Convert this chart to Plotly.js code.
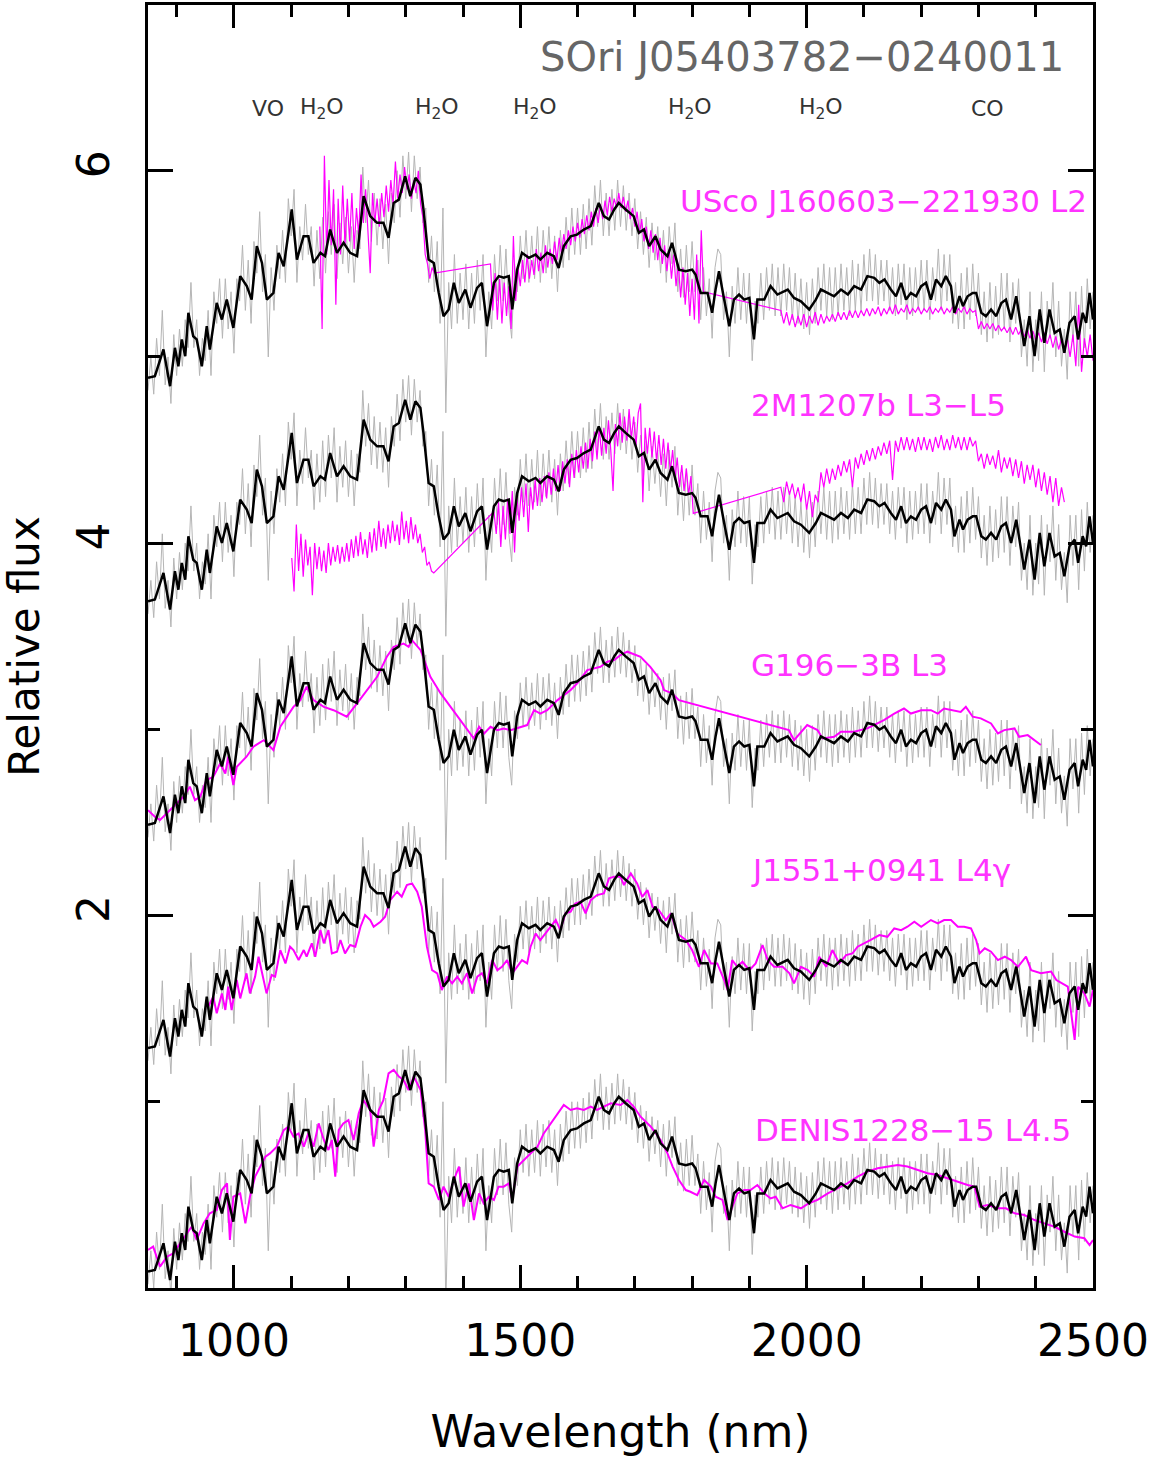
<!DOCTYPE html>
<html>
<head>
<meta charset="utf-8">
<script src="https://cdn.plot.ly/plotly-3.0.1.min.js"></script>
<style>html,body{margin:0;padding:0;background:#fff;}</style>
</head>
<body>
<div id="chart" style="width:1157px;height:1465px;"></div>
<script>
// ---- vertical offsets of the five copies of SOri J05403782-0240011 ----
const offsets = [0, 1.2, 2.4, 3.6, 4.8];

// ---- smoothed spectrum of SOri J05403782-0240011 (bottom copy) ----
const blackWl = [850,862,877,888.5,897,903,909,915,920.5,929,
935,944,952.6,958,970,979,987.5,999,1011,1022.5,
1031,1040,1049,1057.5,1069,1078,1087,1101,1110,1121.6,
1130,1139,1151,1159,1168,1180,1191.5,1203,1215,1226.5,
1238,1250,1261,1270,1279,1288,1299,1308,1317,1325.6,
1331,1340,1349,1357.6,1366,1375,1384,1392.6,1404,1413,
1424.6,1433,1442,1454,1462.5,1471,1480,1486,1494.6,1503,
1515,1526.6,1535,1547,1558.7,1567,1576,1588,1599,1611,
1623,1637,1646,1655,1664,1672,1684,1698,1707,1716,
1725,1736,1745,1757,1765,1777,1789,1800,1806,1815,
1827,1835,1841,1847,1856,1865,1873,1882,1891,1900,
1908,1914,1926,1937,1949,1967,1978,1990,2004.5,2016,
2025,2037,2048,2060,2072,2083,2095,2106,2118,2127,
2136,2147,2156,2165,2173.5,2182,2191,2200,2208.5,2217,
2226,2235,2243,2252,2258,2267,2273,2281,2290,2296,
2305,2313,2322,2331,2340,2348,2357,2366,2374.5,2380,
2389,2398,2407,2415,2424,2433,2442,2450,2459,2468,
2474,2482,2488,2494,2500];
const blackFlux = [.088,.097,.24,.043,.249,.15,.294,.204,.437,.311,
.294,.15,.365,.24,.49,.401,.508,.356,.634,.58,
.508,.795,.705,.508,.544,.759,.687,.992,.723,.848,
.848,.705,.759,.741,.884,.759,.813,.759,.741,1.063,
.956,.92,.92,.84,1.027,1.045,1.17,1.063,1.162,1.126,
.992,.723,.705,.544,.419,.455,.598,.49,.562,.464,
.571,.598,.365,.598,.634,.625,.634,.455,.669,.759,
.732,.75,.723,.759,.741,.678,.795,.848,.857,.884,
.902,1.027,.956,.938,.992,1.027,.992,.956,.866,.884,
.795,.848,.777,.741,.813,.669,.66,.669,.643,.544,
.544,.437,.562,.66,.508,.365,.508,.535,.508,.517,
.294,.508,.508,.58,.535,.562,.517,.499,.455,.508,
.562,.544,.526,.562,.535,.58,.562,.634,.625,.598,
.616,.562,.526,.598,.508,.544,.526,.58,.598,.508,
.616,.58,.634,.58,.437,.526,.473,.526,.544,.544,
.437,.419,.455,.419,.49,.508,.401,.526,.365,.258,
.419,.204,.455,.276,.455,.329,.347,.222,.383,.419,
.294,.437,.383,.544,.401];

// ---- full-resolution (noisy) spectrum, 5 nm sampling from 850 nm ----
const greyStart = 850, greyStep = 5;
const greyFlux = [.02,.2,.0,.3,.1,.45,.05,.2,-.05,.32,
.1,.35,.15,.4,.25,.6,.25,.4,.1,.3,
.18,.45,.1,.55,.38,.62,.3,.62,.35,.55,
.22,.62,.5,.8,.45,.72,.38,.82,.65,.98,
.55,.75,.2,.68,.45,.8,.62,.88,.6,1.05,
.85,1.1,.6,.9,.72,1.02,.75,.9,.58,.88,
.62,.95,.65,.98,.75,1.02,.62,.92,.7,.95,
.65,.9,.6,.88,.78,1.22,.92,1.15,.82,1.08,
.8,1.05,.78,1.02,.7,1.08,.92,1.2,.95,1.28,
1.05,1.3,.98,1.28,1.05,1.22,.92,1.0,.6,.85,
.55,.82,.38,1.0,-.1,.6,.35,.75,.38,.65,
.4,.7,.35,.65,.38,.72,.45,.75,.2,.55,
.35,.75,.5,.8,.5,.78,.45,.3,.7,.55,
.85,.62,.88,.6,.85,.62,.9,.6,.88,.65,
.9,.62,.85,.55,.88,.68,.95,.72,1.0,.75,
1.0,.75,1.02,.78,1.05,.8,1.12,.9,1.15,.85,
1.08,.85,1.1,.88,1.15,.9,1.12,.88,1.08,.85,
1.05,.78,.98,.75,.95,.68,.92,.72,.9,.65,
.88,.6,.9,.7,.92,.55,.78,.52,.8,.55,
.82,.55,.72,.4,.68,.42,.62,.3,.68,.78,
.75,.4,.55,.2,.58,.38,.68,.4,.65,.38,
.65,.18,.5,.38,.65,.4,.68,.45,.7,.42,
.68,.42,.7,.45,.68,.4,.65,.38,.62,.35,
.6,.32,.62,.38,.68,.45,.7,.42,.68,.4,
.68,.42,.7,.45,.68,.42,.72,.45,.7,.45,
.75,.5,.78,.5,.75,.48,.72,.5,.72,.45,
.68,.42,.7,.48,.7,.4,.68,.42,.68,.45,
.72,.45,.72,.4,.68,.5,.78,.45,.75,.5,
.75,.38,.6,.35,.65,.35,.68,.4,.7,.42,
.65,.32,.55,.28,.6,.3,.58,.32,.65,.35,
.65,.28,.6,.38,.62,.2,.4,.15,.55,.12,
.4,.18,.55,.12,.5,.3,.6,.2,.5,.15,
.35,.08,.55,.28,.55,.15,.58,.25,.62,.35,
.55];

// ---- USco J160603-221930 (L2): J, H, K segments ----
const uscoJStart = 1150, uscoJStep = 4;
const uscoJFlux = [5.70,5.15,6.08,5.55,5.95,5.60,5.90,5.28,5.85,5.55,
5.92,5.60,5.85,5.62,5.88,5.58,5.80,5.65,5.98,5.72,
5.90,5.68,5.45,5.88,5.72,5.85,5.70,5.88,5.75,5.92,
5.78,5.95,5.82,6.05,5.85,5.98,5.88,6.02,5.90,5.98,
5.85,5.95,5.88,6.0,5.82,5.75,5.55,5.50,5.42,5.48,5.45];
const uscoHStart = 1448, uscoHStep = 4;
const uscoHFlux = [5.50,5.25,5.45,5.20,5.42,5.18,5.40,5.22,5.38,5.15,
5.65,5.30,5.48,5.38,5.52,5.40,5.55,5.42,5.52,5.44,
5.58,5.46,5.56,5.45,5.60,5.48,5.58,5.50,5.62,5.52,
5.64,5.55,5.66,5.58,5.68,5.60,5.70,5.62,5.72,5.64,
5.74,5.66,5.76,5.68,5.78,5.70,5.80,5.72,5.82,5.74,
5.84,5.76,5.86,5.78,5.85,5.80,5.88,5.80,5.86,5.78,
5.84,5.74,5.80,5.70,5.78,5.66,5.74,5.62,5.70,5.58,
5.68,5.56,5.66,5.52,5.64,5.50,5.60,5.46,5.58,5.42,
5.55,5.38,5.50,5.32,5.48,5.28,5.45,5.22,5.42,5.20,
5.55,5.18,5.68,5.35];
const uscoKStart = 1955, uscoKStep = 5;
const uscoKFlux = [5.25,5.18,5.24,5.17,5.23,5.16,5.22,5.17,5.23,5.16,
5.22,5.18,5.24,5.17,5.23,5.18,5.22,5.19,5.23,5.19,
5.24,5.20,5.24,5.20,5.25,5.21,5.25,5.21,5.25,5.22,
5.26,5.22,5.26,5.23,5.27,5.22,5.26,5.23,5.27,5.23,
5.28,5.23,5.26,5.24,5.28,5.23,5.26,5.24,5.27,5.23,
5.26,5.24,5.27,5.23,5.26,5.24,5.27,5.23,5.26,5.24,
5.27,5.23,5.26,5.24,5.27,5.23,5.26,5.24,5.25,5.15,
5.19,5.15,5.18,5.15,5.18,5.14,5.17,5.14,5.16,5.13,
5.16,5.12,5.16,5.12,5.15,5.11,5.15,5.10,5.14,5.09,
5.13,5.08,5.13,5.07,5.12,5.05,5.11,5.04,5.10,5.02,
5.10,5.0,5.12,4.95,5.28,4.92,5.10,5.0,5.12,4.98];

// ---- 2M1207b (L3-L5): J, H, K segments ----
const m1207JStart = 1101, m1207JStep = 4;
const m1207JFlux = [3.92,3.74,4.10,3.85,4.05,3.82,4.02,3.88,3.98,3.72,
4.0,3.86,3.98,3.85,3.96,3.84,4.0,3.88,3.98,3.90,
3.99,3.89,3.98,3.90,4.0,3.90,4.02,3.92,4.04,3.93,
4.06,3.94,4.02,3.92,4.06,3.95,4.08,3.96,4.12,3.98,
4.08,3.97,4.10,4.0,4.12,4.01,4.10,3.99,4.17,4.02,
4.12,4.0,4.14,4.02,4.10,4.0,4.05,3.95,3.98,3.88,
3.90,3.85,3.84];
const m1207HStart = 1454, m1207HStep = 4;
const m1207HFlux = [4.17,4.05,4.22,3.98,4.20,4.02,4.24,4.05,4.28,3.95,
4.25,4.12,4.30,4.14,4.32,4.06,4.30,4.18,4.34,4.20,
4.35,4.22,4.36,4.24,4.38,4.26,4.40,4.28,4.42,4.28,
4.44,4.32,4.45,4.30,4.48,4.35,4.50,4.38,4.52,4.40,
4.54,4.40,4.56,4.44,4.60,4.45,4.62,4.47,4.62,4.48,
4.66,4.50,4.28,4.64,4.52,4.70,4.54,4.68,4.55,4.72,
4.56,4.68,4.52,4.70,4.75,4.22,4.62,4.48,4.62,4.46,
4.60,4.44,4.58,4.42,4.56,4.40,4.54,4.38,4.50,4.34,
4.46,4.30,4.42,4.28,4.40,4.26,4.36,4.16];
const m1207KStart = 1955, m1207KStep = 5;
const m1207KFlux = [4.30,4.22,4.33,4.26,4.32,4.24,4.30,4.22,4.32,4.18,
4.28,4.14,4.26,4.22,4.38,4.30,4.40,4.32,4.40,4.34,
4.42,4.36,4.44,4.38,4.45,4.30,4.46,4.40,4.48,4.42,
4.50,4.44,4.51,4.45,4.52,4.47,4.54,4.48,4.55,4.34,
4.55,4.49,4.57,4.50,4.57,4.50,4.56,4.49,4.57,4.50,
4.57,4.50,4.56,4.49,4.57,4.51,4.58,4.50,4.56,4.50,
4.58,4.51,4.57,4.50,4.57,4.50,4.57,4.52,4.55,4.44,
4.48,4.40,4.48,4.42,4.47,4.40,4.50,4.38,4.46,4.40,
4.46,4.36,4.45,4.35,4.44,4.32,4.42,4.34,4.42,4.30,
4.40,4.28,4.38,4.26,4.36,4.22,4.35,4.20,4.30,4.22];

// ---- G196-3B (L3) ----
const g196Wl = [850,862,871,883,894,912,923,932,941,952,964,976,985,990,999,1005,1022,1034,1052,1069,
1081,1092,1104,1116,1127,1139,1157,1174,1197,1215,1232,1250,1267,1279,1296,1305,1311,1326,1343,1361,
1419,1428,1437,1448,1460,1471,1483,1494,1512,1524,1535,1547,1565,1588,1599,1617,1640,1652,1664,1675,
1687,1710,1727,1745,1751,1765,1777,1969,1978,2001,2019,2028,2048,2060,2083,2106,2118,2135,2153,2170,
2182,2200,2217,2229,2240,2258,2269,2278,2290,2304,2322,2334,2345,2363,2371,2386,2398,2409];
const g196Flux = [2.566,2.531,2.513,2.549,2.584,2.638,2.692,2.620,2.638,2.728,2.745,2.817,2.763,2.853,2.701,2.799,2.853,2.907,2.942,2.889,
3.014,3.068,3.121,3.157,3.229,3.157,3.121,3.103,3.068,3.139,3.211,3.282,3.390,3.443,3.461,3.443,3.479,3.425,3.282,3.193,
2.951,3.014,2.978,3.014,2.996,3.005,2.996,3.005,3.023,3.103,3.085,3.103,3.157,3.211,3.246,3.318,3.336,3.363,3.372,3.399,
3.417,3.390,3.336,3.264,3.211,3.193,3.157,2.996,2.942,3.023,2.996,2.951,2.960,2.987,2.987,3.005,3.023,3.050,3.085,3.112,
3.085,3.103,3.103,3.085,3.112,3.103,3.094,3.121,3.068,3.059,3.032,2.978,2.996,3.005,2.960,2.969,2.942,2.916];

// ---- J1551+0941 (L4 gamma) ----
const j1551Wl = [955,964,970,979,985,990,996,1005,1011,1017,1022,1028,1037,1043,1049,1057,1066,1072,1081,1090,
1098,1104,1113,1122,1127,1136,1142,1151,1157,1165,1171,1180,1186,1194,1203,1212,1221,1229,1238,1244,
1256,1264,1273,1285,1293,1302,1311,1320,1328,1337,1346,1355,1363,1372,1381,1390,1398,1407,1416,1425,
1433,1442,1451,1460,1468,1477,1486,1494,1503,1512,1518,1527,1535,1544,1553,1562,1570,1579,1588,1596,
1605,1614,1623,1634,1646,1655,1664,1675,1681,1693,1704,1713,1722,1731,1742,1754,1763,1774,1789,1800,
1812,1821,1833,1844,1856,1862,1870,1879,1888,1900,1911,1923,1932,1943,1958,1970,1978,1990,2002,2013,
2022,2034,2045,2057,2069,2080,2089,2101,2112,2127,2141,2153,2165,2176,2188,2200,2217,2229,2240,2252,
2264,2275,2287,2296,2302,2311,2322,2334,2346,2357,2369,2383,2392,2409,2427,2436,2447,2456,2468,2474,
2485,2494,2500];
const j1551Flux = [1.511,1.564,1.475,1.582,1.493,1.618,1.493,1.654,1.555,1.636,1.690,1.582,1.672,1.779,1.690,1.582,1.681,1.672,1.815,1.743,
1.833,1.815,1.761,1.815,1.779,1.851,1.779,1.922,1.851,1.922,1.797,1.806,1.869,1.797,1.842,1.833,1.940,2.003,1.976,1.940,
1.967,1.994,2.083,2.128,2.101,2.164,2.173,2.128,2.047,1.833,1.707,1.690,1.600,1.672,1.636,1.672,1.636,1.690,1.582,1.672,
1.690,1.636,1.761,1.707,1.725,1.761,1.690,1.725,1.761,1.743,1.833,1.904,1.869,1.904,1.940,1.976,1.922,2.012,2.021,2.065,
2.074,2.012,2.083,2.110,2.119,2.200,2.209,2.209,2.164,2.226,2.173,2.101,2.137,2.047,2.029,1.976,2.012,1.904,1.869,1.815,
1.725,1.815,1.743,1.743,1.654,1.600,1.761,1.725,1.752,1.707,1.743,1.842,1.761,1.725,1.725,1.690,1.636,1.725,1.707,1.672,
1.779,1.725,1.815,1.743,1.788,1.797,1.833,1.851,1.869,1.895,1.886,1.931,1.922,1.940,1.967,1.940,1.976,1.958,1.976,1.976,
1.940,1.940,1.931,1.869,1.797,1.824,1.806,1.761,1.779,1.761,1.725,1.779,1.707,1.690,1.699,1.654,1.636,1.618,1.332,1.618,
1.582,1.511,1.600];

// ---- DENIS1228-15 (L4.5) ----
const denisWl = [850,859,871,883,894,906,918,926,935,947,958,970,979,988,993,999,1011,1020,1028,1037,
1046,1055,1063,1075,1087,1095,1104,1113,1122,1130,1139,1148,1157,1165,1171,1177,1183,1191,1200,1209,
1218,1226,1238,1244,1253,1261,1270,1279,1288,1296,1305,1314,1326,1334,1340,1349,1358,1366,1375,1384,
1393,1401,1410,1419,1428,1436,1445,1454,1462,1471,1480,1486,1495,1506,1518,1530,1541,1553,1565,1576,
1588,1599,1611,1623,1634,1646,1658,1675,1687,1698,1710,1728,1745,1757,1766,1777,1789,1797,1809,1821,
1833,1841,1853,1862,1870,1879,1891,1902,1914,1926,1937,1946,1958,1972,1990,2004,2019,2037,2054,2071,
2089,2106,2124,2141,2159,2176,2194,2211,2229,2246,2264,2281,2293,2302,2316,2334,2348,2363,2380,2398,
2415,2433,2450,2468,2485,2494,2500];
const denisFlux = [.204,.222,.115,.168,.186,.240,.294,.329,.258,.347,.401,.419,.526,.562,.258,.490,.508,.347,.490,.598,
.652,.705,.723,.759,.848,.866,.813,.830,.759,.830,.759,.884,.795,.741,.795,.598,.848,.884,.902,.795,
.938,1.009,.956,.759,.956,1.009,1.153,1.171,1.135,1.117,1.063,1.135,1.063,.848,.562,.544,.473,.544,.490,.580,
.652,.437,.562,.365,.508,.455,.490,.473,.544,.544,.562,.473,.652,.687,.723,.759,.830,.884,.938,.983,
.956,.965,.956,.974,.956,.974,.992,.983,1.009,.974,.920,.866,.795,.723,.652,.580,.526,.517,.499,.580,
.544,.490,.473,.365,.437,.508,.526,.526,.553,.508,.481,.490,.428,.446,.428,.455,.473,.508,.535,.562,
.598,.625,.643,.652,.661,.652,.634,.616,.607,.589,.571,.553,.544,.437,.446,.428,.428,.401,.392,.365,
.347,.329,.302,.276,.267,.231,.258];

// ---- text ----
const objectName = 'SOri J05403782\u22120240011';
const compLabels = ['USco J160603\u2212221930 L2', '2M1207b L3\u2212L5', 'G196\u22123B L3', 'J1551+0941 L4\u03b3', 'DENIS1228\u221215 L4.5'];
const featureLabels = ['VO', 'H<sub>2</sub>O', 'H<sub>2</sub>O', 'H<sub>2</sub>O', 'H<sub>2</sub>O', 'H<sub>2</sub>O', 'CO'];
const featureWl = [1060, 1154, 1355, 1525, 1796, 2025, 2315];
const xTickVals = [1000, 1500, 2000, 2500];
const yTickVals = [2, 4, 6];

// ---------------- build ----------------
function grid(start, step, n) { const a = []; for (let i = 0; i < n; i++) a.push(start + i * step); return a; }
function segs(list) {
  const x = [], y = [];
  list.forEach(s => { const g = grid(s[0], s[1], s[2].length); g.forEach((v, i) => { x.push(v); y.push(s[2][i]); }); });
  return {x, y};
}
const MAG = '#ff00ff';
const traces = [];
const greyWl = grid(greyStart, greyStep, greyFlux.length);
offsets.forEach(o => traces.push({x: greyWl, y: greyFlux.map(v => v + o), type: 'scatter', mode: 'lines',
  line: {color: '#b5b5b5', width: 1}, hoverinfo: 'skip'}));

const usco = segs([[uscoJStart, uscoJStep, uscoJFlux], [uscoHStart, uscoHStep, uscoHFlux], [uscoKStart, uscoKStep, uscoKFlux]]);
traces.push({x: usco.x, y: usco.y, type: 'scatter', mode: 'lines', line: {color: MAG, width: 1.2}});
const m1207 = segs([[m1207JStart, m1207JStep, m1207JFlux], [m1207HStart, m1207HStep, m1207HFlux], [m1207KStart, m1207KStep, m1207KFlux]]);
traces.push({x: m1207.x, y: m1207.y, type: 'scatter', mode: 'lines', line: {color: MAG, width: 1.2}});
traces.push({x: g196Wl, y: g196Flux, type: 'scatter', mode: 'lines', line: {color: MAG, width: 2}});
traces.push({x: j1551Wl, y: j1551Flux, type: 'scatter', mode: 'lines', line: {color: MAG, width: 2}});
traces.push({x: denisWl, y: denisFlux, type: 'scatter', mode: 'lines', line: {color: MAG, width: 2}});

offsets.forEach(o => traces.push({x: blackWl, y: blackFlux.map(v => v + o), type: 'scatter', mode: 'lines',
  line: {color: '#000000', width: 2.5}}));

const annotations = [];
annotations.push({text: objectName, x: 2453, y: 6.61, xref: 'x', yref: 'y', xanchor: 'right', yanchor: 'middle',
  showarrow: false, font: {size: 40, color: '#666666', family: 'DejaVu Sans'}});
featureLabels.forEach((t, i) => annotations.push({text: t, x: featureWl[i], y: 6.336, xref: 'x', yref: 'y',
  xanchor: 'center', yanchor: 'middle', showarrow: false, font: {size: 22, color: '#333333', family: 'DejaVu Sans'}}));
const labelPos = [[1775, 5.84], [1899, 4.74], [1899, 3.345], [1899, 2.244], [1906, 0.848]];
compLabels.forEach((t, i) => annotations.push({text: t, x: labelPos[i][0], y: labelPos[i][1], xref: 'x', yref: 'y',
  xanchor: 'left', yanchor: 'middle', showarrow: false, font: {size: 31, color: '#ff33ff', family: 'DejaVu Sans'}}));

const xMinor = [900,1100,1200,1300,1400,1600,1700,1800,1900,2100,2200,2300,2400];
const layout = {
  width: 1157, height: 1465,
  margin: {l: 148, r: 64, t: 5, b: 177},
  paper_bgcolor: '#ffffff', plot_bgcolor: '#ffffff',
  showlegend: false,
  font: {family: 'DejaVu Sans', color: '#000000'},
  xaxis: {
    range: [850, 2500], showline: true, linewidth: 3, linecolor: '#000', mirror: 'ticks',
    ticks: 'inside', ticklen: 23, tickwidth: 3, tickcolor: '#000',
    tickmode: 'array', tickvals: xTickVals, ticktext: xTickVals.map(String),
    tickfont: {size: 44}, showgrid: false, zeroline: false, ticklabelstandoff: 12,
    minor: {tickmode: 'array', tickvals: xMinor, ticks: 'inside', ticklen: 12, tickwidth: 3, tickcolor: '#000', showgrid: false},
    title: {text: 'Wavelength (nm)', font: {size: 44}, standoff: 52}
  },
  yaxis: {
    range: [0, 6.89], showline: true, linewidth: 3, linecolor: '#000', mirror: 'ticks',
    ticks: 'inside', ticklen: 25, tickwidth: 3, tickcolor: '#000',
    tickmode: 'array', tickvals: yTickVals, ticktext: yTickVals.map(String), tickangle: -90,
    tickfont: {size: 44}, showgrid: false, zeroline: false, ticklabelstandoff: 18,
    minor: {tickmode: 'array', tickvals: [1, 3, 5], ticks: 'inside', ticklen: 12, tickwidth: 3, tickcolor: '#000', showgrid: false},
    title: {text: 'Relative flux', font: {size: 42}, standoff: 32}
  },
  annotations: annotations
};
Plotly.newPlot('chart', traces, layout, {displayModeBar: false, staticPlot: true});
</script>
</body>
</html>
